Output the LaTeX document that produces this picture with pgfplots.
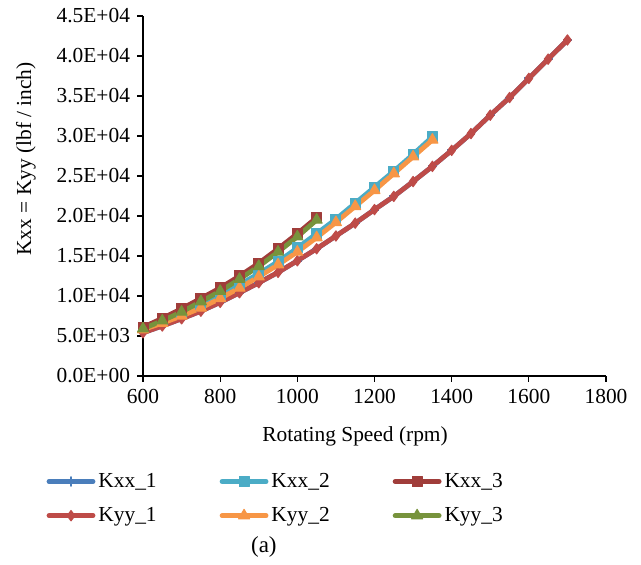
\documentclass[border=0pt]{standalone}
\usepackage{fontspec}
\setmainfont{Liberation Serif}
\usepackage{pgfplots}
\pgfplotsset{compat=1.18}

\definecolor{cA}{HTML}{4A7EBB}
\definecolor{cB}{HTML}{4BACC6}
\definecolor{cC}{HTML}{A03D3A}
\definecolor{cD}{HTML}{BE4B48}
\definecolor{cE}{HTML}{F79646}
\definecolor{cF}{HTML}{77933C}

\begin{document}
\begin{tikzpicture}
\begin{axis}[
scale only axis,
width=231.5pt,
height=180pt,
xmin=600, xmax=1800,
ymin=0, ymax=45000,
axis lines*=left,
clip=false,
tick align=outside,
major tick length=3pt,
every tick/.style={black, line width=0.6pt},
axis line style={line width=0.6pt},
font=\fontsize{10.7}{12.5}\selectfont,
xtick={600,800,1000,1200,1400,1600,1800},
xticklabels={600,800,1000,1200,1400,1600,1800},
ytick={0,5000,10000,15000,20000,25000,30000,35000,40000,45000},
yticklabels={0.0E+00,5.0E+03,1.0E+04,1.5E+04,2.0E+04,2.5E+04,3.0E+04,3.5E+04,4.0E+04,4.5E+04},
scaled y ticks=false,
xlabel={Rotating Speed (rpm)},
xlabel style={at={(rel axis cs:0.458,-0.169)}, anchor=center},
ylabel={Kxx = Kyy (lbf / inch)},
ylabel style={at={(rel axis cs:-0.253,0.603)}, anchor=center},
legend columns=3,
legend cell align=left,
legend style={at={(rel axis cs:-0.222,-0.246)}, anchor=north west, draw=none,
  font=\fontsize{10.7}{12.5}\selectfont, row sep=4.5pt,
  nodes={inner xsep=1.5pt},
  /tikz/every even column/.append style={column sep=30pt}},
legend image code/.code={\draw[mark repeat=2,mark phase=2,line cap=round] plot coordinates {(0pt,0pt) (11pt,0pt) (22pt,0pt)};},
every axis plot/.append style={line width=2.4pt, line join=round},
]

% Kxx_1
\addplot[color=cA, mark=+, mark size=2.2pt, mark options={solid, line width=1pt}] coordinates {
(600,5400) (650,6250) (700,7150) (750,8100) (800,9200) (850,10400) (900,11650)
(950,12950) (1000,14400) (1050,15900) (1100,17500) (1150,19100) (1200,20800)
(1250,22450) (1300,24300) (1350,26200) (1400,28200) (1450,30300) (1500,32600)
(1550,34800) (1600,37200) (1650,39600) (1700,42000)
};

% Kxx_2
\addplot[color=cB, mark=square*, mark size=2.5pt, mark options={solid, fill=cB, line width=0.5pt}] coordinates {
(600,6000) (650,6800) (700,7800) (750,8800) (800,10000) (850,11400) (900,12800)
(950,14300) (1000,16000) (1050,17800) (1100,19600) (1150,21600) (1200,23600)
(1250,25600) (1300,27700) (1350,29900)
};

% Kxx_3
\addplot[color=cC, mark=square*, mark size=2.5pt, mark options={solid, fill=cC, line width=0.5pt}] coordinates {
(600,6100) (650,7200) (700,8400) (750,9700) (800,11000) (850,12500) (900,14100)
(950,15900) (1000,17800) (1050,19800)
};

% Kyy_1
\addplot[color=cD, mark=diamond*, mark size=2.6pt, mark options={solid, fill=cD, line width=0.5pt}] coordinates {
(600,5400) (650,6250) (700,7150) (750,8100) (800,9200) (850,10400) (900,11650)
(950,12950) (1000,14400) (1050,15900) (1100,17500) (1150,19100) (1200,20800)
(1250,22450) (1300,24300) (1350,26200) (1400,28200) (1450,30300) (1500,32600)
(1550,34800) (1600,37200) (1650,39600) (1700,42000)
};

% Kyy_2
\addplot[color=cE, mark=triangle*, mark size=3.2pt, mark options={solid, fill=cE, line width=0.5pt}] coordinates {
(600,5800) (650,6600) (700,7500) (750,8500) (800,9700) (850,11000) (900,12400)
(950,13900) (1000,15500) (1050,17300) (1100,19200) (1150,21200) (1200,23200)
(1250,25300) (1300,27400) (1350,29500)
};

% Kyy_3
\addplot[color=cF, mark=triangle*, mark size=3.2pt, mark options={solid, fill=cF, line width=0.5pt}] coordinates {
(600,5900) (650,6900) (700,8000) (750,9300) (800,10600) (850,12100) (900,13700)
(950,15500) (1000,17400) (1050,19500)
};

\legend{Kxx\_1, Kxx\_2, Kxx\_3, Kyy\_1, Kyy\_2, Kyy\_3}

\node[font=\fontsize{11.5}{13}\selectfont] at (rel axis cs:0.261,-0.475) {(a)};
\coordinate (bbl) at (rel axis cs:-0.3089,-0.525);
\coordinate (btr) at (rel axis cs:1.0756,1.0444);
\end{axis}
\path (bbl) rectangle (btr);
\end{tikzpicture}
\end{document}
